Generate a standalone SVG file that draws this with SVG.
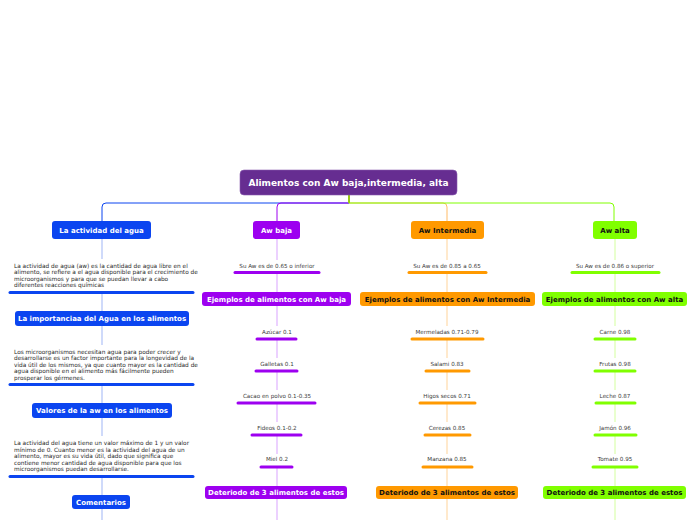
<svg xmlns="http://www.w3.org/2000/svg" width="696" height="520" viewBox="0 0 696 520">
<style>
.nt{font-family:"DejaVu Sans",Verdana,sans-serif;font-weight:bold;font-size:7px;text-anchor:middle}
.w{fill:#ffffff}
.k{fill:#111111}
.lb{font-family:"DejaVu Sans",Verdana,sans-serif;font-size:5.6px;fill:#3a3a3a;text-anchor:middle}
.bt{font-family:"DejaVu Sans",Verdana,sans-serif;font-size:5.8px;fill:#2a2a2a}
.bar{stroke-width:3;stroke-linecap:round;fill:none}
.cb{stroke:#0b45f0}.cp{stroke:#9d00f0}.co{stroke:#ff9900}.cg{stroke:#80ff00}
.vb{stroke:#9fb5f5;stroke-width:1;fill:none}.vp{stroke:#d9a3ff;stroke-width:1;fill:none}
.vo{stroke:#ffd399;stroke-width:1;fill:none}.vg{stroke:#d3ff9e;stroke-width:1;fill:none}
.fb{fill:#0b45f0}.fp{fill:#9d00f0}.fo{fill:#ff9900}.fg{fill:#80ff00}
</style>
<rect width="696" height="520" fill="#ffffff"/>
<g id="connectors">
<path d="M349,195 V203 H106 Q102,203 102,207 V221" stroke="#0b45f0" stroke-width="1" fill="none"/>
<path d="M349,195 V203 H281 Q277,203 277,207 V221" stroke="#9d00f0" stroke-width="1" fill="none"/>
<path d="M349,195 V203 H443 Q447,203 447,207 V221" stroke="#ffbb66" stroke-width="1" fill="none"/>
<path d="M349,195 V203 H610 Q614,203 614,207 V221" stroke="#80ff00" stroke-width="1" fill="none"/>
<path d="M349,195 V203" stroke="#99cc00" stroke-width="1.5" fill="none"/>
<path class="vb" d="M102,239 V259 M102,293 V311 M102,326 V345 M102,385 V403 M102,418 V436 M102,477 V495 M102,509 V520"/>
<path class="vp" d="M277,239 V260 M277,273 V292 M277,306 V326 M277,339 V358 M277,371 V390 M277,403 V422 M277,435 V454 M277,467 V486 M277,499 V520"/>
<path class="vo" d="M447,239 V260 M447,273 V292 M447,306 V326 M447,339 V358 M447,371 V390 M447,403 V422 M447,435 V454 M447,467 V486 M447,499 V520"/>
<path class="vg" d="M615,239 V260 M615,273 V292 M615,306 V326 M615,339 V358 M615,371 V390 M615,403 V422 M615,435 V454 M615,467 V486 M615,499 V520"/>
</g>
<g id="root">
<rect x="240" y="170" width="217" height="25" rx="4" fill="#662d91" stroke="#8a5bb0" stroke-width="0.6"/>
<text class="nt w" x="348.5" y="186" style="font-size:9px">Alimentos con Aw baja,intermedia, alta</text>
</g>
<g id="n-actividad">
<rect class="fb" x="52" y="221" width="99" height="18" rx="3"/>
<text class="nt w" x="101.5" y="232.5">La actividad del agua</text>
</g>
<g id="t-actividad">
<text class="bt" x="14" y="267.5">La actividad de agua (aw) es la cantidad de agua libre en el</text>
<text class="bt" x="14" y="274">alimento, se refiere a el agua disponible para el crecimiento de</text>
<text class="bt" x="14" y="280.5">microorganismos y para que se puedan llevar a cabo</text>
<text class="bt" x="14" y="287">diferentes reacciones químicas</text>
<line class="bar cb" x1="10" y1="292.5" x2="193" y2="292.5"/>
</g>
<g id="n-importancia">
<rect class="fb" x="15" y="311" width="174" height="15" rx="3"/>
<text class="nt w" x="102" y="321">La importanciaa del Agua en los alimentos</text>
</g>
<g id="t-importancia">
<text class="bt" x="14" y="353.5">Los microorganismos necesitan agua para poder crecer y</text>
<text class="bt" x="14" y="360">desarrollarse es un factor importante para la longevidad de la</text>
<text class="bt" x="14" y="366.5">vida útil de los mismos, ya que cuanto mayor es la cantidad de</text>
<text class="bt" x="14" y="373">agua disponible en el alimento más fácilmente pueden</text>
<text class="bt" x="14" y="379.5">prosperar los gérmenes.</text>
<line class="bar cb" x1="10" y1="384.5" x2="193" y2="384.5"/>
</g>
<g id="n-valores">
<rect class="fb" x="32" y="403" width="140" height="15" rx="3"/>
<text class="nt w" x="102" y="413">Valores de la aw en los alimentos</text>
</g>
<g id="t-valores">
<text class="bt" x="14" y="445">La actividad del agua tiene un valor máximo de 1 y un valor</text>
<text class="bt" x="14" y="451.5">mínimo de 0. Cuanto menor es la actividad del agua de un</text>
<text class="bt" x="14" y="458">alimento, mayor es su vida útil, dado que significa que</text>
<text class="bt" x="14" y="464.5">contiene menor cantidad de agua disponible para que los</text>
<text class="bt" x="14" y="471">microorganismos puedan desarrollarse.</text>
<line class="bar cb" x1="10" y1="476.5" x2="193" y2="476.5"/>
</g>
<g id="n-comentarios">
<rect class="fb" x="72" y="495" width="58" height="14" rx="3"/>
<text class="nt w" x="101" y="504.5">Comentarios</text>
</g>
<g id="n-awbaja">
<rect class="fp" x="253" y="221" width="47" height="18" rx="3"/>
<text class="nt w" x="276.5" y="232.5">Aw baja</text>
</g>
<g id="l-baja">
<text class="lb" x="277" y="268">Su Aw es de 0.65 o inferior</text>
<line class="bar cp" x1="235" y1="272.5" x2="319" y2="272.5"/>
</g>
<g id="n-ejbaja">
<rect class="fp" x="202" y="292" width="149" height="14" rx="3"/>
<text class="nt w" x="276.5" y="301.5">Ejemplos de alimentos con Aw baja</text>
</g>
<g id="l-azucar"><text class="lb" x="277" y="333.5">Azúcar 0.1</text><line class="bar cp" x1="257" y1="339" x2="296" y2="339"/></g>
<g id="l-galletas"><text class="lb" x="277" y="365.5">Galletas 0.1</text><line class="bar cp" x1="256" y1="371" x2="297" y2="371"/></g>
<g id="l-cacao"><text class="lb" x="277" y="397.5">Cacao en polvo 0.1-0.35</text><line class="bar cp" x1="238" y1="403" x2="315" y2="403"/></g>
<g id="l-fideos"><text class="lb" x="277" y="429.5">Fideos 0.1-0.2</text><line class="bar cp" x1="252" y1="435" x2="301" y2="435"/></g>
<g id="l-miel"><text class="lb" x="277" y="461">Miel 0.2</text><line class="bar cp" x1="261" y1="467" x2="292" y2="467"/></g>
<g id="n-detbaja">
<rect class="fp" x="205" y="486" width="142" height="13" rx="3"/>
<text class="nt w" x="276" y="495">Deteriodo de 3 alimentos de estos</text>
</g>
<g id="n-awint">
<rect class="fo" x="411" y="221" width="73" height="18" rx="3"/>
<text class="nt k" x="447.5" y="232.5">Aw Intermedia</text>
</g>
<g id="l-int">
<text class="lb" x="447" y="268">Su Aw es de 0.85 a 0.65</text>
<line class="bar co" x1="409" y1="272.5" x2="486" y2="272.5"/>
</g>
<g id="n-ejint">
<rect class="fo" x="360" y="292" width="175" height="14" rx="3"/>
<text class="nt k" x="447.5" y="301.5">Ejemplos de alimentos con Aw Intermedia</text>
</g>
<g id="l-mermeladas"><text class="lb" x="447" y="333.5">Mermeladas 0.71-0.79</text><line class="bar co" x1="412" y1="339" x2="483" y2="339"/></g>
<g id="l-salami"><text class="lb" x="447" y="365.5">Salami 0.83</text><line class="bar co" x1="426" y1="371" x2="469" y2="371"/></g>
<g id="l-higos"><text class="lb" x="447" y="397.5">Higos secos 0.71</text><line class="bar co" x1="420" y1="403" x2="475" y2="403"/></g>
<g id="l-cerezas"><text class="lb" x="447" y="429.5">Cerezas 0.85</text><line class="bar co" x1="425" y1="435" x2="470" y2="435"/></g>
<g id="l-manzana"><text class="lb" x="447" y="461">Manzana 0.85</text><line class="bar co" x1="423" y1="467" x2="472" y2="467"/></g>
<g id="n-detint">
<rect class="fo" x="376" y="486" width="142" height="13" rx="3"/>
<text class="nt k" x="447" y="495">Deteriodo de 3 alimentos de estos</text>
</g>
<g id="n-awalta">
<rect class="fg" x="593" y="221" width="44" height="18" rx="3"/>
<text class="nt k" x="615" y="232.5">Aw alta</text>
</g>
<g id="l-alta">
<text class="lb" x="615" y="268">Su Aw es de 0.86 o superior</text>
<line class="bar cg" x1="572" y1="272.5" x2="659" y2="272.5"/>
</g>
<g id="n-ejalta">
<rect class="fg" x="542" y="292" width="145" height="14" rx="3"/>
<text class="nt k" x="614.5" y="301.5">Ejemplos de alimentos con Aw alta</text>
</g>
<g id="l-carne"><text class="lb" x="615" y="333.5">Carne 0.98</text><line class="bar cg" x1="595" y1="339" x2="635" y2="339"/></g>
<g id="l-frutas"><text class="lb" x="615" y="365.5">Frutas 0.98</text><line class="bar cg" x1="595" y1="371" x2="635" y2="371"/></g>
<g id="l-leche"><text class="lb" x="615" y="397.5">Leche 0.87</text><line class="bar cg" x1="596" y1="403" x2="635" y2="403"/></g>
<g id="l-jamon"><text class="lb" x="615" y="429.5">Jamón 0.96</text><line class="bar cg" x1="595" y1="435" x2="636" y2="435"/></g>
<g id="l-tomate"><text class="lb" x="615" y="461">Tomate 0.95</text><line class="bar cg" x1="593" y1="467" x2="637" y2="467"/></g>
<g id="n-detalta">
<rect class="fg" x="543" y="486" width="143" height="13" rx="3"/>
<text class="nt k" x="614.5" y="495">Deteriodo de 3 alimentos de estos</text>
</g>
</svg>
